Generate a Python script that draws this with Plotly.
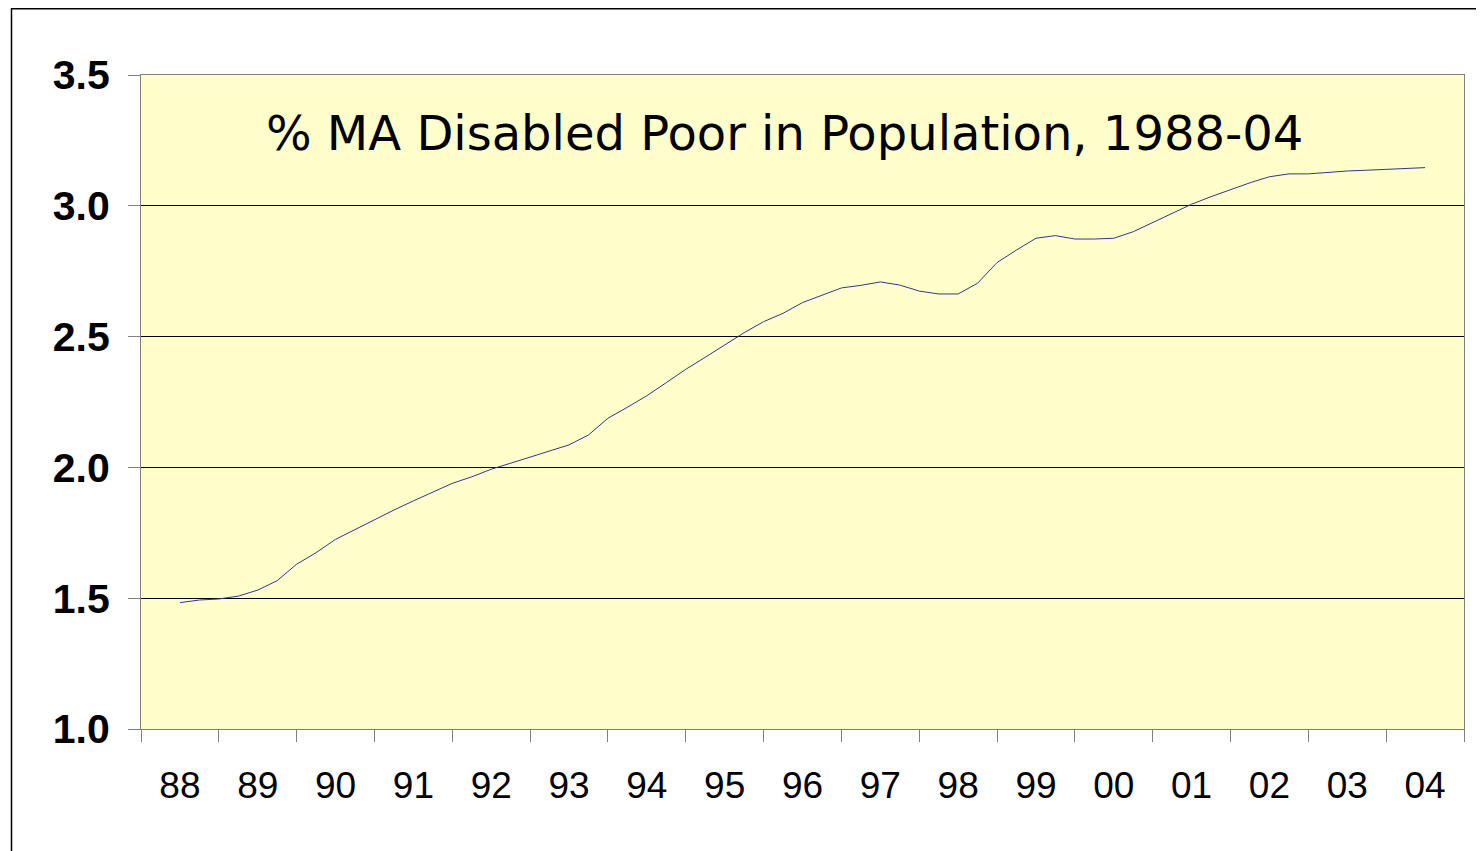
import plotly.graph_objects as go

# Quarterly observations, mid-1988 through mid-2004
start_year = 1988.5
step = 0.25
values = [
    1.483, 1.493, 1.497, 1.508, 1.531, 1.567, 1.630, 1.674, 1.725, 1.763,
    1.802, 1.837, 1.872, 1.907, 1.939, 1.964, 1.993, 2.016, 2.039, 2.063,
    2.086, 2.124, 2.188, 2.230, 2.274, 2.324, 2.375, 2.421, 2.467, 2.515,
    2.557, 2.589, 2.630, 2.659, 2.686, 2.696, 2.709, 2.697, 2.674, 2.663,
    2.663, 2.704, 2.783, 2.831, 2.876, 2.886, 2.873, 2.873, 2.876, 2.901,
    2.935, 2.969, 3.006, 3.035, 3.063, 3.088, 3.111, 3.122, 3.122, 3.128,
    3.133, 3.136, 3.139, 3.142, 3.146,
]
x_vals = [start_year + i * step for i in range(len(values))]

year_labels = ["88", "89", "90", "91", "92", "93", "94", "95", "96",
               "97", "98", "99", "00", "01", "02", "03", "04"]
label_pos = [1988.5 + i for i in range(len(year_labels))]
boundaries = [1988 + i for i in range(len(year_labels) + 1)]

y_ticks = [1.0, 1.5, 2.0, 2.5, 3.0, 3.5]

title_text = "% MA Disabled Poor in Population, 1988-04"

fig = go.Figure()
fig.add_trace(go.Scatter(
    x=x_vals, y=values, mode="lines",
    line=dict(color="#333399", width=1),
    hoverinfo="skip", showlegend=False,
))

# page body adds an 8px offset; figure sized to fit the window
OFF = 8
W, H = 1484 - OFF, 851 - OFF
ml, mr, mt, mb = 141 - OFF, 20, 75 - OFF, 122
pw = W - ml - mr
ph = H - mt - mb

fig.update_layout(
    width=W, height=H,
    margin=dict(l=ml, r=mr, t=mt, b=mb, pad=0),
    paper_bgcolor="white",
    plot_bgcolor="#FFFFCC",
    showlegend=False,
)

fig.update_xaxes(
    range=[1988, 2005],
    tickmode="array", tickvals=label_pos, ticktext=year_labels,
    ticks="", showgrid=False, zeroline=False,
    showline=True, linecolor="#808080", linewidth=1, mirror=True,
    tickfont=dict(family="Liberation Sans, Arial", size=37, color="black"),
    ticklabelstandoff=24,
    minor=dict(tickmode="array", tickvals=boundaries, ticks="outside",
               ticklen=12, tickwidth=1, tickcolor="#808080", showgrid=False),
)

fig.update_yaxes(
    range=[1.0, 3.5],
    tickmode="array", tickvals=y_ticks,
    ticktext=[f"{v:.1f}" for v in y_ticks],
    ticks="outside", ticklen=12, tickwidth=1, tickcolor="#808080",
    showgrid=True, gridcolor="#000000", gridwidth=1,
    zeroline=False,
    showline=True, linecolor="#808080", linewidth=1, mirror=True,
    tickfont=dict(family="Liberation Sans, Arial", size=41, color="black",
                  weight="bold"),
    ticklabelstandoff=10,
)

# title inside the plot area
fig.add_annotation(
    text=title_text, xref="paper", yref="paper",
    x=(784 - OFF - ml) / pw, y=(H - mb - (133 - OFF)) / ph,
    xanchor="center", yanchor="middle", showarrow=False,
    font=dict(family="DejaVu Sans", size=48, color="black"),
)

# outer frame of the chart (runs off the right and bottom edges)
fig.add_shape(
    type="rect", xref="paper", yref="paper",
    x0=(11.5 - OFF - ml) / pw, x1=(W + 20 - ml) / pw,
    y0=(H - mb - (H + 20)) / ph, y1=(H - mb - 0.75) / ph,
    line=dict(color="black", width=1.5), fillcolor="rgba(0,0,0,0)",
    layer="below",
)

fig.write_html("out.html")
